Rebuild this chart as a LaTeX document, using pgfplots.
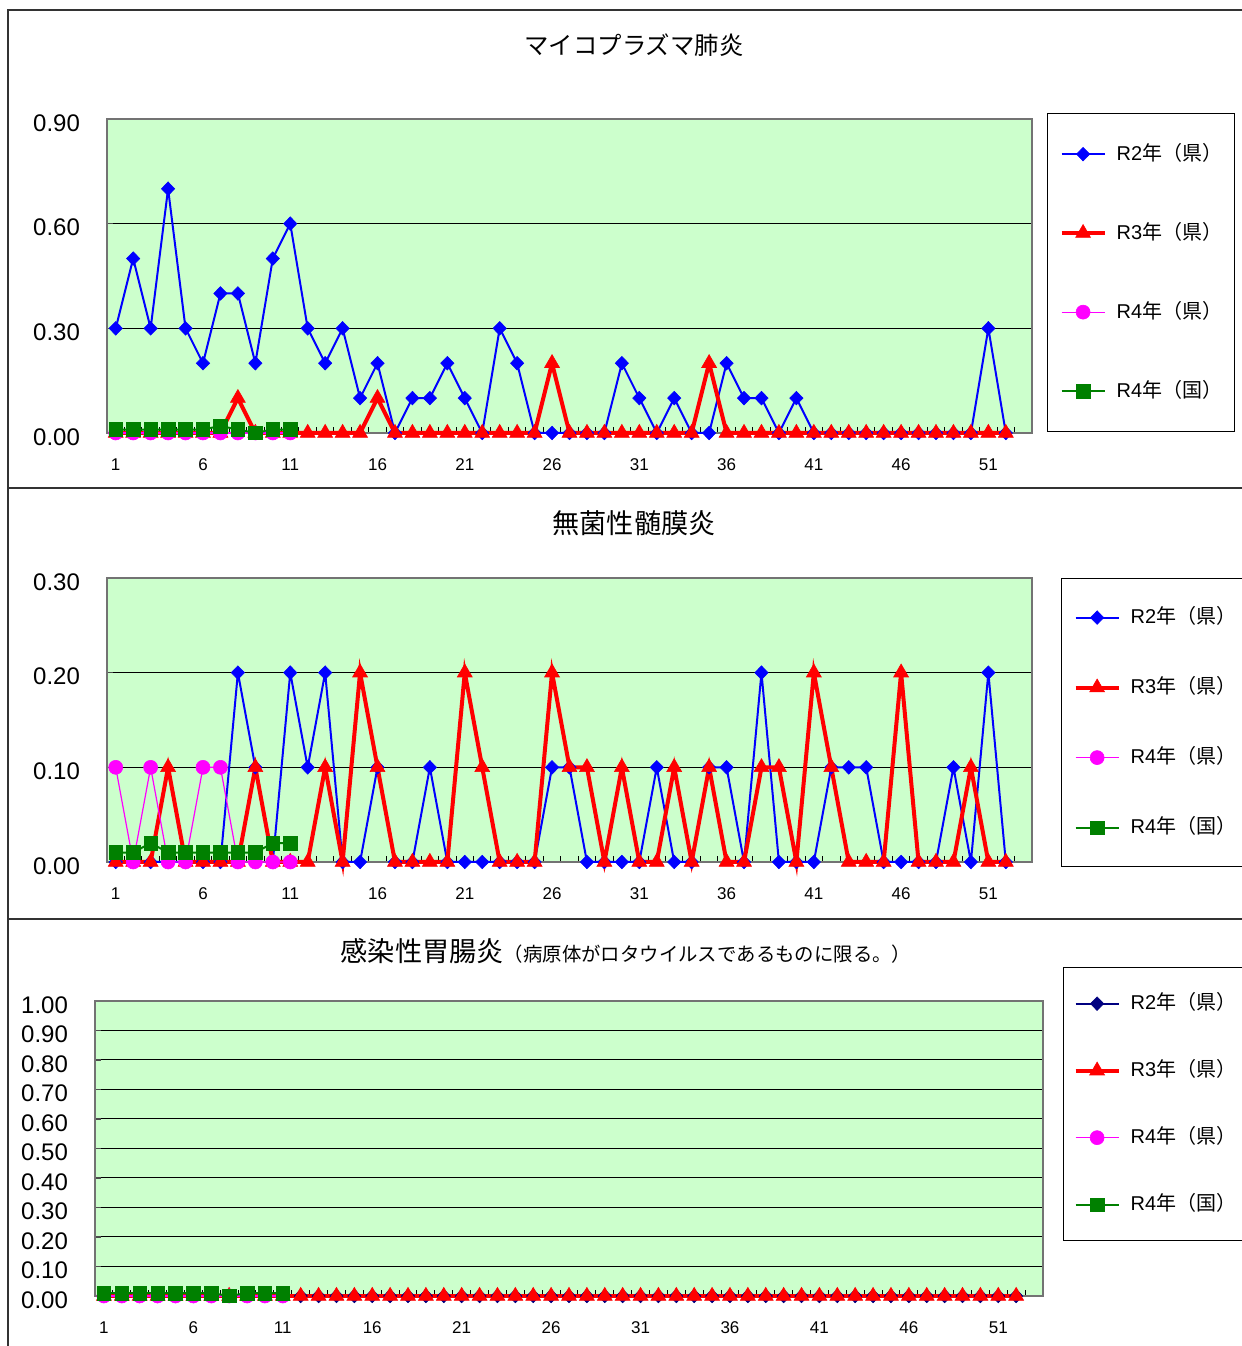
\documentclass[border=0pt]{standalone}
\usepackage{pgfplots}
\pgfplotsset{compat=1.18}
\usepackage{pgfplotstable}
\usepackage{fontspec}
\setmainfont{Liberation Sans}
\newfontfamily\jp{Noto Sans CJK JP}

\definecolor{plotbg}{RGB}{204,255,204}
\definecolor{cR2}{RGB}{0,0,255}
\definecolor{cR2n}{RGB}{0,0,128}
\definecolor{cR3}{RGB}{255,0,0}
\definecolor{cR4k}{RGB}{255,0,255}
\definecolor{cR4n}{RGB}{0,128,0}

% マイコプラズマ肺炎
\pgfplotstableread{
wk r2 r3 r4k r4n
1 0.3 0 0 0.01
2 0.5 0 0 0.01
3 0.3 0 0 0.01
4 0.7 0 0 0.01
5 0.3 0 0 0.01
6 0.2 0 0 0.01
7 0.4 0 0 0.02
8 0.4 0.1 0 0.01
9 0.2 0 0 0.00
10 0.5 0 0 0.01
11 0.6 0 0 0.01
12 0.3 0 nan nan
13 0.2 0 nan nan
14 0.3 0 nan nan
15 0.1 0 nan nan
16 0.2 0.1 nan nan
17 0 0 nan nan
18 0.1 0 nan nan
19 0.1 0 nan nan
20 0.2 0 nan nan
21 0.1 0 nan nan
22 0 0 nan nan
23 0.3 0 nan nan
24 0.2 0 nan nan
25 0 0 nan nan
26 0 0.2 nan nan
27 0 0 nan nan
28 0 0 nan nan
29 0 0 nan nan
30 0.2 0 nan nan
31 0.1 0 nan nan
32 0 0 nan nan
33 0.1 0 nan nan
34 0 0 nan nan
35 0 0.2 nan nan
36 0.2 0 nan nan
37 0.1 0 nan nan
38 0.1 0 nan nan
39 0 0 nan nan
40 0.1 0 nan nan
41 0 0 nan nan
42 0 0 nan nan
43 0 0 nan nan
44 0 0 nan nan
45 0 0 nan nan
46 0 0 nan nan
47 0 0 nan nan
48 0 0 nan nan
49 0 0 nan nan
50 0 0 nan nan
51 0.3 0 nan nan
52 0 0 nan nan
}\tabA

% 無菌性髄膜炎
\pgfplotstableread{
wk r2 r3 r4k r4n
1 0 0 0.1 0.01
2 0 0 0 0.01
3 0 0 0.1 0.02
4 0 0.1 0 0.01
5 0 0 0 0.01
6 0 0 0.1 0.01
7 0 0 0.1 0.01
8 0.2 0 0 0.01
9 0.1 0.1 0 0.01
10 0 0 0 0.02
11 0.2 0 0 0.02
12 0.1 0 nan nan
13 0.2 0.1 nan nan
14 0 0 nan nan
15 0 0.2 nan nan
16 0.1 0.1 nan nan
17 0 0 nan nan
18 0 0 nan nan
19 0.1 0 nan nan
20 0 0 nan nan
21 0 0.2 nan nan
22 0 0.1 nan nan
23 0 0 nan nan
24 0 0 nan nan
25 0 0 nan nan
26 0.1 0.2 nan nan
27 0.1 0.1 nan nan
28 0 0.1 nan nan
29 0 0 nan nan
30 0 0.1 nan nan
31 0 0 nan nan
32 0.1 0 nan nan
33 0 0.1 nan nan
34 0 0 nan nan
35 0.1 0.1 nan nan
36 0.1 0 nan nan
37 0 0 nan nan
38 0.2 0.1 nan nan
39 0 0.1 nan nan
40 0 0 nan nan
41 0 0.2 nan nan
42 0.1 0.1 nan nan
43 0.1 0 nan nan
44 0.1 0 nan nan
45 0 0 nan nan
46 0 0.2 nan nan
47 0 0 nan nan
48 0 0 nan nan
49 0.1 0 nan nan
50 0 0.1 nan nan
51 0.2 0 nan nan
52 0 0 nan nan
}\tabB

% 感染性胃腸炎（ロタウイルス）
\pgfplotstableread{
wk r2 r3 r4k r4n
1 0 0 0 0.01
2 0 0 0 0.01
3 0 0 0 0.01
4 0 0 0 0.01
5 0 0 0 0.01
6 0 0 0 0.01
7 0 0 0 0.01
8 0 0 0 0.00
9 0 0 0 0.01
10 0 0 0 0.01
11 0 0 0 0.01
12 0 0 nan nan
13 0 0 nan nan
14 0 0 nan nan
15 0 0 nan nan
16 0 0 nan nan
17 0 0 nan nan
18 0 0 nan nan
19 0 0 nan nan
20 0 0 nan nan
21 0 0 nan nan
22 0 0 nan nan
23 0 0 nan nan
24 0 0 nan nan
25 0 0 nan nan
26 0 0 nan nan
27 0 0 nan nan
28 0 0 nan nan
29 0 0 nan nan
30 0 0 nan nan
31 0 0 nan nan
32 0 0 nan nan
33 0 0 nan nan
34 0 0 nan nan
35 0 0 nan nan
36 0 0 nan nan
37 0 0 nan nan
38 0 0 nan nan
39 0 0 nan nan
40 0 0 nan nan
41 0 0 nan nan
42 0 0 nan nan
43 0 0 nan nan
44 0 0 nan nan
45 0 0 nan nan
46 0 0 nan nan
47 0 0 nan nan
48 0 0 nan nan
49 0 0 nan nan
50 0 0 nan nan
51 0 0 nan nan
52 0 0 nan nan
}\tabC

\pgfplotsset{
  panel/.style={
    scale only axis, clip=false,
    xmin=0.5, xmax=53.5, ymin=0,
    axis background/.style={fill=plotbg},
    axis line style={draw=black!55, line width=0.8pt},
    xtick={1,6,...,51},
    minor xtick={0.5,1.5,...,53.5},
    xtick pos=bottom, ytick pos=left,
    major x tick style={draw=none},
    minor x tick style={black, line width=0.5pt},
    tick align=inside,
    minor tick length=3pt,
    major tick length=3pt,
    ytick style={black!70, line width=0.6pt},
    ymajorgrids,
    major grid style={black, line width=0.5pt},
    xticklabel style={font=\fontsize{8.5}{10}\selectfont, yshift=-9.5pt},
    yticklabel style={font=\fontsize{12}{14}\selectfont, xshift=-10pt, yshift=-2pt},
    /pgf/number format/assume math mode=true,
    yticklabel={\pgfmathprintnumber[fixed,fixed zerofill,precision=2]{\tick}},
    legend cell align=left,
    legend image code/.code={\draw[mark repeat=2,mark phase=2,#1] plot coordinates {(0pt,0pt) (10.75pt,0pt) (21.5pt,0pt)};},
    legend style={anchor=north west, draw=black, line width=0.6pt, fill=white,
      font=\fontsize{10}{12}\selectfont,
      nodes={inner sep=0pt, text height=7.5pt, text depth=1.5pt},
      /tikz/every odd column/.append style={column sep=5pt}},
  },
  sR2/.style={cR2, line width=1pt, mark=diamond*, mark size=3.4pt, mark options={solid, line width=0.3pt, xscale=1.3}},
  sR3/.style={cR3, line width=2pt, mark=triangle*, mark size=4.3pt, mark options={solid, line width=0.3pt}},
  sR4k/.style={cR4k, line width=0.6pt, mark=*, mark size=3.5pt, mark options={solid, line width=0.3pt}},
  sR4n/.style={cR4n, line width=1pt, mark=square*, mark size=3.4pt, mark options={solid, line width=0.3pt}},
}

\begin{document}
\begin{tikzpicture}
\path[use as bounding box] (0,0) rectangle (621pt,673pt);
\draw[line width=0.8pt, black!80] (4pt,0) -- (4pt,668pt) -- (621pt,668pt);
\draw[line width=0.8pt, black!80] (4pt,429pt) -- (621pt,429pt);
\draw[line width=0.8pt, black!80] (4pt,213.5pt) -- (621pt,213.5pt);

\node[font=\jp\fontsize{12.2}{14}\selectfont] at (317pt,650.5pt) {マイコプラズマ肺炎};
\node[font=\jp\fontsize{13.6}{15}\selectfont] at (317pt,411.5pt) {無菌性髄膜炎};
\node at (313pt,197.5pt) {{\jp\fontsize{13.6}{15}\selectfont 感染性胃腸炎}{\jp\fontsize{9.7}{12}\selectfont （病原体がロタウイルスであるものに限る。）}};

% panel 1
\begin{axis}[panel, at={(53.5pt,456.5pt)}, anchor=south west,
  width=462.5pt, height=157pt, ymax=0.9, ytick={0,0.3,0.6,0.9},
  legend style={at={(1.0162,1.019)}, inner xsep=6pt, inner ysep=15.75pt, row sep=30.5pt}]
\addplot[sR2] table[x=wk,y=r2]{\tabA};
\addplot[sR3] table[x=wk,y=r3]{\tabA};
\addplot[sR4k] table[x=wk,y=r4k]{\tabA};
\addplot[sR4n] table[x=wk,y=r4n]{\tabA};
\legend{R2{\jp 年（県）},R3{\jp 年（県）},R4{\jp 年（県）},R4{\jp 年（国）}}
\end{axis}

% panel 2
\begin{axis}[panel, at={(53.5pt,242pt)}, anchor=south west,
  width=462.5pt, height=142pt, ymax=0.3, ytick={0,0.1,0.2,0.3},
  legend style={at={(1.0314,1.0)}, inner xsep=6pt, inner ysep=15pt, row sep=26pt}]
\addplot[sR2] table[x=wk,y=r2]{\tabB};
\addplot[sR3] table[x=wk,y=r3]{\tabB};
\addplot[sR4k] table[x=wk,y=r4k]{\tabB};
\addplot[sR4n] table[x=wk,y=r4n]{\tabB};
\legend{R2{\jp 年（県）},R3{\jp 年（県）},R4{\jp 年（県）},R4{\jp 年（国）}}
\end{axis}

% panel 3
\begin{axis}[panel, at={(47.5pt,25pt)}, anchor=south west,
  width=474pt, height=147.5pt, ymax=1, ytick={0,0.1,...,1.0},
  legend style={at={(1.0211,1.115)}, inner xsep=5pt, inner ysep=13.5pt, row sep=24.5pt}]
\addplot[sR2, cR2n] table[x=wk,y=r2]{\tabC};
\addplot[sR3] table[x=wk,y=r3]{\tabC};
\addplot[sR4k] table[x=wk,y=r4k]{\tabC};
\addplot[sR4n] table[x=wk,y=r4n]{\tabC};
\legend{R2{\jp 年（県）},R3{\jp 年（県）},R4{\jp 年（県）},R4{\jp 年（国）}}
\end{axis}
\end{tikzpicture}
\end{document}
